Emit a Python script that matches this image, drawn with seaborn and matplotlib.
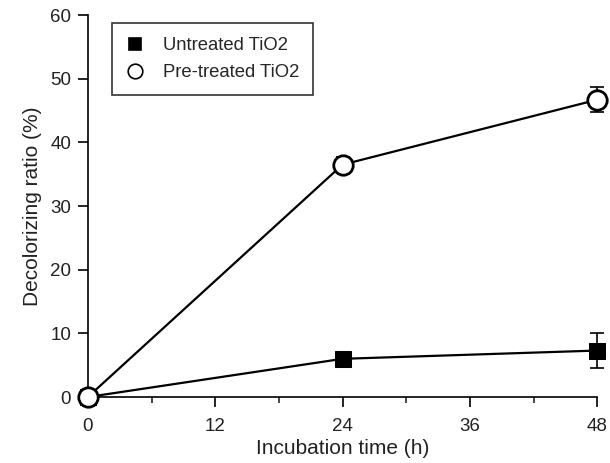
import numpy as np
import pandas as pd
import matplotlib
matplotlib.use("Agg")
import matplotlib.pyplot as plt
from matplotlib.ticker import MultipleLocator
import seaborn as sns

# Data
hours = [0, 24, 48]
untreated = [0.0, 6.0, 7.3]
untreated_err = [0.0, 0.5, 2.7]
pretreated = [0.0, 36.5, 46.7]
pretreated_err = [0.0, 1.2, 2.0]

sns.set_style("ticks")
plt.rcParams["font.family"] = ["Liberation Sans", "DejaVu Sans"]

df = pd.DataFrame({
    "time": hours * 2,
    "ratio": untreated + pretreated,
    "group": ["Untreated TiO2"] * 3 + ["Pre-treated TiO2"] * 3,
})

fig = plt.figure(figsize=(6.1, 4.63), dpi=100)
ax = fig.add_axes([0.144, 0.1425, 0.835, 0.825])

# error bars first so markers sit on top
ax.errorbar(hours, untreated, yerr=untreated_err, fmt="none", ecolor="black",
            elinewidth=1.2, capsize=5, capthick=1.2, zorder=2, clip_on=False)
ax.errorbar(hours, pretreated, yerr=pretreated_err, fmt="none", ecolor="black",
            elinewidth=1.2, capsize=5, capthick=1.2, zorder=2, clip_on=False)

sns.lineplot(data=df[df.group == "Untreated TiO2"], x="time", y="ratio",
             color="black", lw=1.6, marker="s", markersize=11,
             markerfacecolor="black", markeredgecolor="black",
             label="Untreated TiO2", ax=ax, zorder=3, clip_on=False)
sns.lineplot(data=df[df.group == "Pre-treated TiO2"], x="time", y="ratio",
             color="black", lw=1.6, marker="o", markersize=14,
             markerfacecolor="white", markeredgecolor="black", markeredgewidth=2,
             label="Pre-treated TiO2", ax=ax, zorder=4, clip_on=False)

ax.set_xlim(0, 48)
ax.set_ylim(0, 60)
ax.set_xticks([0, 12, 24, 36, 48])
ax.xaxis.set_minor_locator(MultipleLocator(6))
ax.set_yticks(range(0, 61, 10))
ax.tick_params(axis="both", which="major", direction="out", length=7, width=1.2,
               labelsize=13.5, color="black", labelcolor="#222222", pad=5)
ax.tick_params(axis="x", which="major", pad=8)
ax.tick_params(axis="x", which="minor", direction="out", length=4, width=1.2)
for s in ["top", "right"]:
    ax.spines[s].set_visible(False)
for s in ["left", "bottom"]:
    ax.spines[s].set_linewidth(1.2)
    ax.spines[s].set_color("black")

ax.set_xlabel("Incubation time (h)", fontsize=15, color="#222222", labelpad=3)
ax.set_ylabel("Decolorizing ratio (%)", fontsize=15, color="#222222", labelpad=6)

leg = ax.legend(loc="upper left", bbox_to_anchor=(0.1836, 0.950),
                bbox_transform=fig.transFigure, borderaxespad=0, fontsize=13.3,
                frameon=True, fancybox=False, edgecolor="black",
                handlelength=1.0, handletextpad=1.0, borderpad=0.75,
                labelspacing=0.55, markerscale=0.75)
leg.get_frame().set_linewidth(1.2)
for line in leg.get_lines():
    line.set_linestyle("")
    line.set_markeredgewidth(1.2)

fig.savefig("out.png", dpi=100)
